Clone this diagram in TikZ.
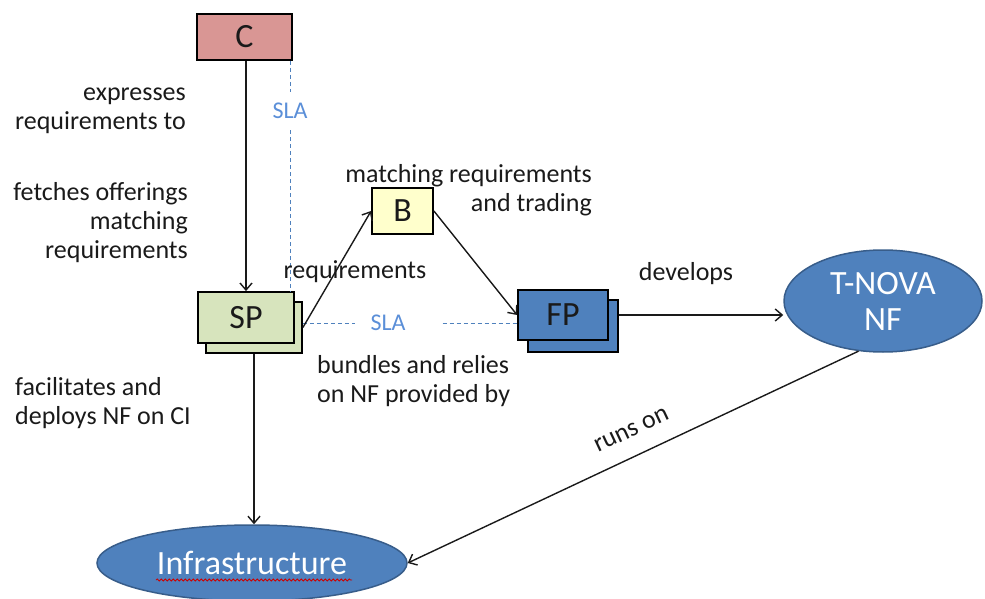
\documentclass[tikz,border=0pt]{standalone}
\usepackage{fontspec}
\setmainfont{Carlito}
\usetikzlibrary{arrows.meta,shapes.geometric,decorations.pathmorphing,calc}
\definecolor{cfill}{HTML}{D99694}
\definecolor{bfill}{HTML}{FFFFCC}
\definecolor{spfill}{HTML}{D7E4BD}
\definecolor{blue1}{HTML}{4F81BD}
\definecolor{blueline}{HTML}{385D8A}
\definecolor{slatext}{HTML}{5B8FD8}
\definecolor{txt}{HTML}{1A1A1A}
\begin{document}
\begin{tikzpicture}[x=1pt,y=-1pt,
  box/.style={draw=black, line width=1.8pt, font=\fontsize{34}{38}\selectfont, text=txt, inner sep=0pt},
  oval/.style={ellipse, draw=blueline, line width=1.5pt, fill=blue1, text=white, font=\fontsize{34}{36}\selectfont, inner sep=0pt, align=center},
  lbl/.style={font=\fontsize{26}{29}\selectfont, text=txt, inner sep=0pt},
  slalbl/.style={font=\fontsize{24}{29}\selectfont, text=slatext, inner sep=0pt},
  sla/.style={draw=blue1, line width=1pt, dash pattern=on 4pt off 3pt},
  arr/.style={draw=txt, line width=1.4pt, -{Straight Barb[length=7pt,width=12pt,line width=1.4pt]}},
  arrback/.style={draw=txt, line width=1.4pt, {Straight Barb[length=7pt,width=12pt,line width=1.4pt]}-}
]
\useasboundingbox (0,0) rectangle (985,599);

% nodes
\node[box, fill=cfill, minimum width=95pt, minimum height=46pt] (c) at (244.5,37) {C};
\node[box, fill=spfill, minimum width=96pt, minimum height=51pt] (spback) at (254,327.5) {};
\node[box, fill=spfill, minimum width=96pt, minimum height=51pt] (sp) at (246,317.5) {SP};
\node[box, fill=bfill, minimum width=61pt, minimum height=46pt] (b) at (402.5,211) {B};
\node[box, fill=blue1, minimum width=90pt, minimum height=52pt] (fpback) at (573,326) {};
\node[box, fill=blue1, minimum width=90pt, minimum height=50pt] (fp) at (563,315) {FP};
\node[oval, minimum width=198pt, minimum height=102pt] (tnova) at (883,301) {T-NOVA\\NF};
\node[oval, minimum width=310pt, minimum height=76pt] (infra) at (252,563) {Infrastructure};
\draw[red!80!black, line width=0.8pt, decorate, decoration={snake, amplitude=1pt, segment length=4pt}]
  ($(infra.center)+(-96,17)$) -- ($(infra.center)+(100,17)$);

% SLA labels and dashed SLA lines
\coordinate (slatop) at ($(c.south east)+(-2,0)$);
\node[slalbl] (sla1) at (290,111) {SLA};
\node[slalbl] (sla2) at (388,323) {SLA};
\draw[sla] (slatop) -- ($(slatop |- sla1.north)+(0,-11)$);
\draw[sla] ($(slatop |- sla1.south)+(0,11)$) -- (slatop |- sp.north);
\draw[sla] (spback.east |- sla2) -- ([xshift=-15pt]sla2.west);
\draw[sla] ([xshift=37pt]sla2.east) -- (sla2 -| fp.west);

% connectors
\draw[arr] (c.south -| sp.north) -- (sp.north);
\draw[arr] (spback.east) -- (b.west);
\draw[arr] (b.east) -- (fp.west);
\draw[arr] (fpback.east |- fp.east) -- (fp.east -| tnova.west);
\draw[arr] (spback.south) -- (spback.south |- infra.north);
\draw[arrback] (infra.east) -- node[lbl, pos=0.52, sloped, above=18pt] (runs) {runs on} (tnova.244);

% labels
\node[lbl, anchor=north east, align=right] (l1) at (186,80) {\strut expresses\\requirements to};
\node[lbl, anchor=north east, align=right] (l2) at (188,180) {\strut fetches offerings\\matching\\requirements};
\node[lbl, anchor=north west, align=left] (l3) at (15,375) {\strut facilitates and\\deploys NF on CI};
\node[lbl, anchor=north east, align=right] (l4) at (592,162) {\strut matching requirements\\and trading};
\node[lbl, anchor=base] (l5) at (355,278) {requirements};
\node[lbl, anchor=north west, align=left] (l6) at (317,353) {\strut bundles and relies\\on NF provided by};
\node[lbl, anchor=base] (l7) at (686,280) {develops};
\end{tikzpicture}
\end{document}
